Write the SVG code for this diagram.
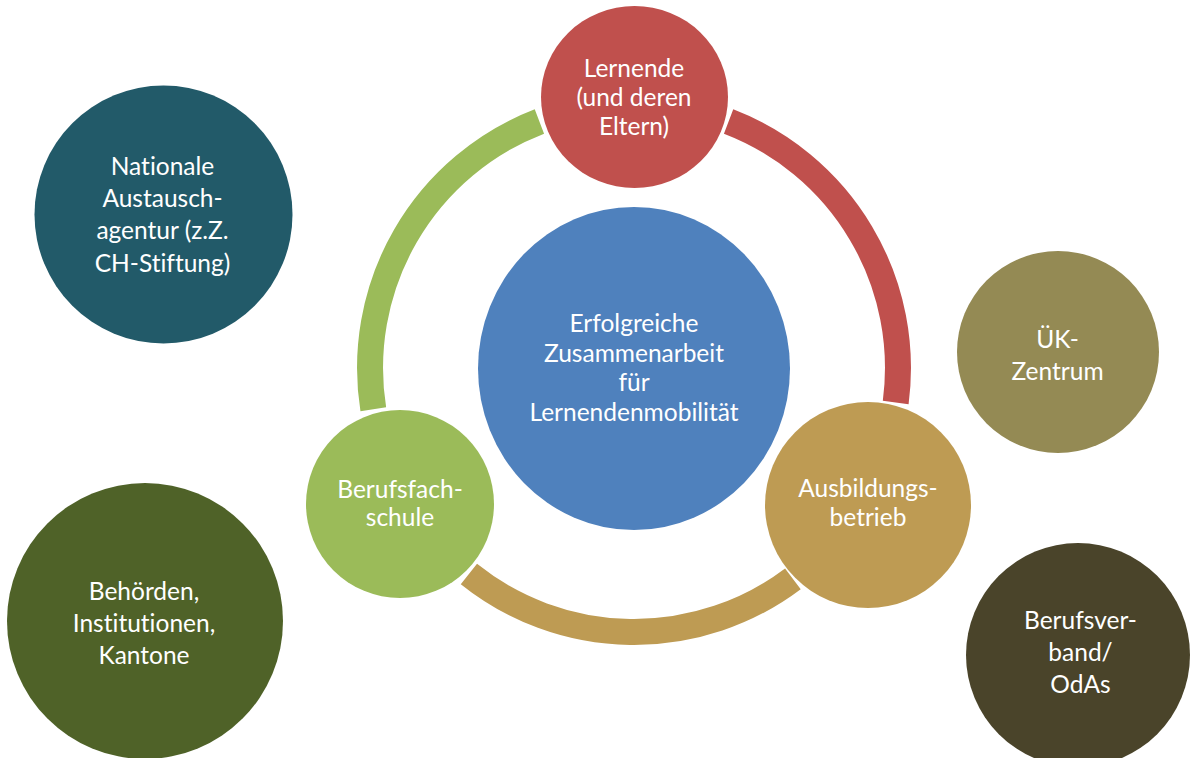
<svg xmlns="http://www.w3.org/2000/svg" width="1191" height="758" viewBox="0 0 1191 758">
<style>
.t{font-family:Lato,"Open Sans","Liberation Sans",sans-serif;fill:#ffffff;text-anchor:middle;font-variant-ligatures:none;font-size:24.5px}
.arc{fill:none;stroke-width:26;stroke-linecap:butt}
</style>
<rect width="1191" height="758" fill="#ffffff"/>
<g id="connectors">
<path class="arc" stroke="#9BBB59" d="M 373.3 409.3 A 264 264 0 0 1 539.4 121.5"/>
<path class="arc" stroke="#C0504D" d="M 728.6 121.5 A 264 264 0 0 1 895.7 402.5"/>
<path class="arc" stroke="#BE9B53" d="M 792.9 578.8 A 264 264 0 0 1 468.9 574.0"/>
</g>
<g id="node-center">
<ellipse cx="634" cy="368.5" rx="156" ry="161.5" fill="#4F81BD"/>
<text class="t"><tspan x="634" y="332">Erfolgreiche</tspan><tspan x="634" y="361.5">Zusammenarbeit</tspan><tspan x="634" y="391">für</tspan><tspan x="634" y="420.5">Lernendenmobilität</tspan></text>
</g>
<g id="node-lernende">
<ellipse cx="634.5" cy="97" rx="93.5" ry="91" fill="#C0504D"/>
<text class="t"><tspan x="634" y="77">Lernende</tspan><tspan x="634" y="106">(und deren</tspan><tspan x="634" y="135">Eltern)</tspan></text>
</g>
<g id="node-berufsfachschule">
<circle cx="400" cy="504" r="94" fill="#9BBB59"/>
<text class="t"><tspan x="400" y="497.5">Berufsfach-</tspan><tspan x="400" y="525.5">schule</tspan></text>
</g>
<g id="node-ausbildungsbetrieb">
<circle cx="868" cy="505" r="103" fill="#BE9B53"/>
<text class="t"><tspan x="868" y="496.5">Ausbildungs-</tspan><tspan x="868" y="525.5">betrieb</tspan></text>
</g>
<g id="node-nationale">
<circle cx="163.5" cy="214.5" r="129" fill="#225A69"/>
<text class="t"><tspan x="162.5" y="175">Nationale</tspan><tspan x="162.5" y="207">Austausch-</tspan><tspan x="162.5" y="239">agentur (z.Z.</tspan><tspan x="162.5" y="271.5">CH-Stiftung)</tspan></text>
</g>
<g id="node-uek">
<circle cx="1058" cy="352" r="101" fill="#948A54"/>
<text class="t"><tspan x="1057.5" y="347.5">ÜK-</tspan><tspan x="1057.5" y="380">Zentrum</tspan></text>
</g>
<g id="node-behoerden">
<circle cx="145" cy="621" r="138" fill="#4F6228"/>
<text class="t"><tspan x="144" y="599.5">Behörden,</tspan><tspan x="144" y="632">Institutionen,</tspan><tspan x="144" y="664">Kantone</tspan></text>
</g>
<g id="node-berufsverband">
<circle cx="1078" cy="655" r="112" fill="#4A442A"/>
<text class="t"><tspan x="1080.5" y="628.5">Berufsver-</tspan><tspan x="1080.5" y="661">band/</tspan><tspan x="1080.5" y="693">OdAs</tspan></text>
</g>
</svg>
